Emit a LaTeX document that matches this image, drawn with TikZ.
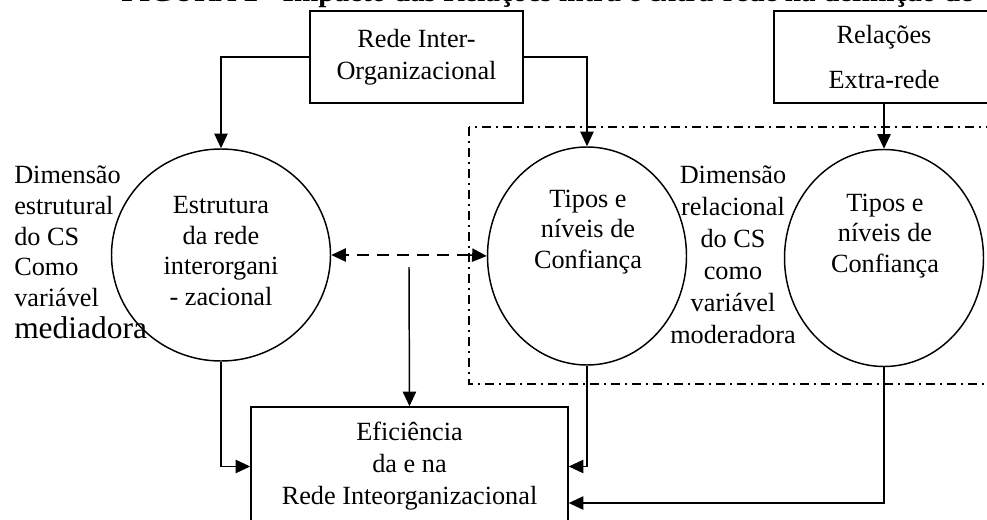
\documentclass[tikz,border=0pt]{standalone}
\usepackage{fontspec}
\setmainfont{Liberation Serif}
\usetikzlibrary{shapes.geometric,arrows.meta}

\begin{document}
\begin{tikzpicture}[x=0.75pt, y=-0.75pt,
	flow/.style={line width=1.1pt, -{Triangle[length=11pt,width=10pt]}},
	caixa/.style={draw, line width=1.1pt, align=center, inner sep=0pt, font=\fontsize{19.7}{24}\selectfont},
	elipse/.style={draw, ellipse, line width=1.1pt, inner sep=0pt},
	texto/.style={align=center, inner sep=0pt, font=\fontsize{19.7}{23}\selectfont}]
	\useasboundingbox (0,0) rectangle (987,520);

	\node[anchor=base west, inner sep=0pt, font=\fontsize{21.9}{26}\selectfont\bfseries] (titulo) at (121,2) {FIGURA 2 - Impacto das Relações intra e extra-rede na definição de};

	\node[caixa, minimum width=159.75pt, minimum height=69pt] (rede) at (416.5,57) {Rede Inter-\\Organizacional};
	\node[caixa, minimum width=165pt, minimum height=69pt, font=\fontsize{19.7}{33.75}\selectfont] (extra) at (884,57) {Relações\\Extra-rede};
	\node[caixa, minimum width=237.75pt, minimum height=89.25pt] (efic) at (409.5,466.5) {Eficiência\\da e na\\Rede Inteorganizacional};

	\node[elipse, minimum width=164.25pt, minimum height=159pt] (estr) at (221,255) {};
	\node[elipse, minimum width=149.25pt, minimum height=163.5pt] (conf1) at (587,256) {};
	\node[elipse, minimum width=149.25pt, minimum height=162.75pt] (conf2) at (884,258) {};

	\node[texto] (estrtxt) at (221,251) {Estrutura\\da rede\\interorgani\\- zacional};
	\node[texto] (conf1txt) at (588,232) {Tipos e\\níveis de\\Confiança};
	\node[texto] (conf2txt) at (885,236) {Tipos e\\níveis de\\Confiança};
	\node[texto, font=\fontsize{19.7}{24}\selectfont] (relac) at (733,255) {Dimensão\\relacional\\do CS\\como\\variável\\moderadora};
	\node[texto, align=left, anchor=north west] (estrut) at (14,166) {Dimensão\\estrutural\\do CS\\Como\\variável\\[1pt]{\fontsize{23.6}{26}\selectfont mediadora}};

	\draw[line width=1pt, dash pattern=on 6.75pt off 3.75pt on 1.5pt off 3.75pt] (469,127) rectangle (1000,384);

	\coordinate (split) at (469,255);
	\coordinate (drop) at (409,267);

	\draw[flow] (rede.west) -| (estr.north);
	\draw[flow] (rede.east) -| (conf1.north);
	\draw[flow] (extra.south) -- (conf2.north);
	\draw[flow, dash pattern=on 9pt off 6pt] (split) -- (estr.east);
	\draw[flow] (split) -- (conf1.west);
	\draw[flow] (drop) -- (efic.north);
	\draw[flow] (estr.south) |- (efic.west);
	\draw[flow] (conf1.south) |- (efic.east);
	\draw[flow] (conf2.south) |- ([yshift=-27.4pt]efic.east);
\end{tikzpicture}
\end{document}
